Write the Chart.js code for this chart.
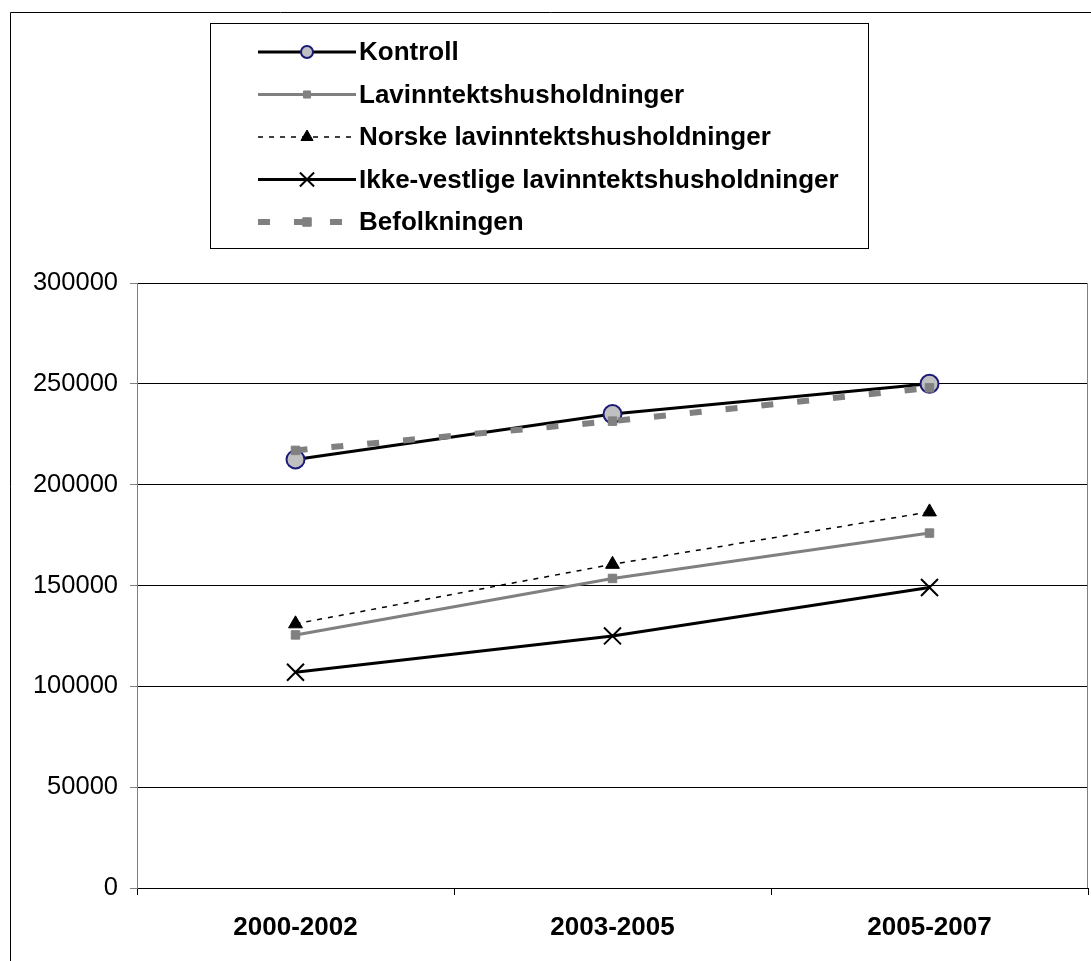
<!DOCTYPE html>
<html>
<head>
<meta charset="utf-8">
<script src="https://cdn.jsdelivr.net/npm/chart.js@4.4.0/dist/chart.umd.min.js"></script>
<style>
  html, body { margin: 0; padding: 0; background: #fff; }
  #wrap { position: relative; width: 1091px; height: 961px; }
  canvas { display: block; }
</style>
</head>
<body>
<div id="wrap"><canvas id="c" width="1091" height="961"></canvas></div>
<script>
const categories = ["2000-2002", "2003-2005", "2005-2007"];
const kontroll = [212500, 235000, 250000];
const lavinntekt = [125500, 153500, 176000];
const norske = [131000, 160500, 186500];
const ikkeVestlige = [107000, 125000, 149000];
const befolkningen = [217000, 231500, 248000];
const seriesNames = ["Kontroll", "Lavinntektshusholdninger", "Norske lavinntektshusholdninger", "Ikke-vestlige lavinntektshusholdninger", "Befolkningen"];
const yMin = 0, yMax = 300000, yStep = 50000;

const FONT = "'Liberation Sans', Arial, sans-serif";

const styles = [
  { borderColor: '#000', borderWidth: 3, pointStyle: 'circle', pointRadius: 9, legendRadius: 6, pointBackgroundColor: '#c0c0c0', pointBorderColor: '#1c1a78', pointBorderWidth: 2, borderDash: [], order: 1 },
  { borderColor: '#808080', borderWidth: 3, pointStyle: 'rect', pointRadius: 6, legendRadius: 5, pointBackgroundColor: '#808080', pointBorderColor: '#808080', pointBorderWidth: 1, borderDash: [], order: 2 },
  { borderColor: '#000', borderWidth: 1.5, pointStyle: 'triangle', pointRadius: 8, legendRadius: 7, pointBackgroundColor: '#000', pointBorderColor: '#000', pointBorderWidth: 1, borderDash: [5, 6], order: 3 },
  { borderColor: '#000', borderWidth: 3, pointStyle: 'crossRot', pointRadius: 12, legendRadius: 10, pointBackgroundColor: '#000', pointBorderColor: '#000', pointBorderWidth: 2, borderDash: [], order: 4 },
  { borderColor: '#808080', borderWidth: 6, pointStyle: 'rect', pointRadius: 6, legendRadius: 6, pointBackgroundColor: '#808080', pointBorderColor: '#808080', pointBorderWidth: 1, borderDash: [12, 24], order: 0 }
];
const values = [kontroll, lavinntekt, norske, ikkeVestlige, befolkningen];

const datasets = seriesNames.map((name, i) => Object.assign({
  label: name,
  data: values[i],
  fill: false,
  tension: 0,
  pointHoverRadius: styles[i].pointRadius
}, styles[i]));

const decorPlugin = {
  id: 'decor',
  beforeDraw(chart) {
    const ctx = chart.ctx;
    ctx.save();
    ctx.fillStyle = '#fff';
    ctx.fillRect(0, 0, chart.width, chart.height);
    ctx.restore();
  },
  afterDraw(chart) {
    const ctx = chart.ctx;
    const a = chart.chartArea;
    ctx.save();
    ctx.strokeStyle = '#000';
    ctx.lineWidth = 1;
    ctx.beginPath();
    ctx.moveTo(10.5, chart.height);
    ctx.lineTo(10.5, 12.5);
    ctx.lineTo(chart.width, 12.5);
    ctx.stroke();
    ctx.strokeStyle = '#808080';
    ctx.beginPath();
    ctx.moveTo(Math.round(a.right) - 0.5, a.top);
    ctx.lineTo(Math.round(a.right) - 0.5, a.bottom);
    ctx.stroke();

    const bx = 210.5, by = 23.5, bw = 658, bh = 225;
    ctx.fillStyle = '#fff';
    ctx.fillRect(bx, by, bw, bh);
    ctx.strokeStyle = '#000';
    ctx.lineWidth = 1;
    ctx.strokeRect(bx, by, bw, bh);

    const x0 = 258, x1 = 356, tx = 359;
    const mx = (x0 + x1) / 2;
    chart.data.datasets.forEach((ds, i) => {
      const y = 52 + 42.5 * i;
      ctx.save();
      ctx.strokeStyle = ds.borderColor;
      ctx.lineWidth = ds.borderWidth;
      ctx.setLineDash(ds.borderDash || []);
      ctx.beginPath();
      ctx.moveTo(x0, y);
      ctx.lineTo(x1, y);
      ctx.stroke();
      ctx.setLineDash([]);
      ctx.fillStyle = ds.pointBackgroundColor;
      ctx.strokeStyle = ds.pointBorderColor;
      ctx.lineWidth = ds.pointBorderWidth;
      Chart.helpers.drawPoint(ctx, {
        pointStyle: ds.pointStyle,
        radius: ds.legendRadius,
        rotation: 0,
        borderWidth: ds.pointBorderWidth
      }, mx, y);
      ctx.fillStyle = '#000';
      ctx.font = 'bold 26px ' + FONT;
      ctx.textBaseline = 'middle';
      ctx.textAlign = 'left';
      ctx.fillText(ds.label, tx, y + 1);
      ctx.restore();
    });
    ctx.restore();
  }
};

new Chart(document.getElementById('c'), {
  type: 'line',
  data: { labels: categories, datasets },
  options: {
    responsive: false,
    animation: false,
    devicePixelRatio: 1,
    layout: { autoPadding: false, padding: { left: 0, right: 3, top: 283, bottom: 0 } },
    plugins: {
      legend: { display: false },
      tooltip: { enabled: false }
    },
    scales: {
      x: {
        type: 'category',
        offset: true,
        grid: { display: true, drawOnChartArea: false, drawTicks: true, tickLength: 7, offset: true, color: '#000', tickColor: '#000' },
        border: { display: true, color: '#000', width: 1 },
        ticks: { color: '#000', font: { family: FONT, size: 26, weight: 'bold' }, padding: 17, maxRotation: 0 },
        afterFit(scale) { scale.height = 73; }
      },
      y: {
        min: yMin, max: yMax,
        grid: { color: '#000', lineWidth: 1, drawTicks: true, tickLength: 7, tickColor: '#808080' },
        border: { display: true, color: '#808080', width: 1 },
        ticks: { stepSize: yStep, color: '#000', font: { family: FONT, size: 25.5 }, padding: 12, callback: v => String(v) },
        afterFit(scale) { scale.width = 137; }
      }
    }
  },
  plugins: [decorPlugin]
});
</script>
</body>
</html>
